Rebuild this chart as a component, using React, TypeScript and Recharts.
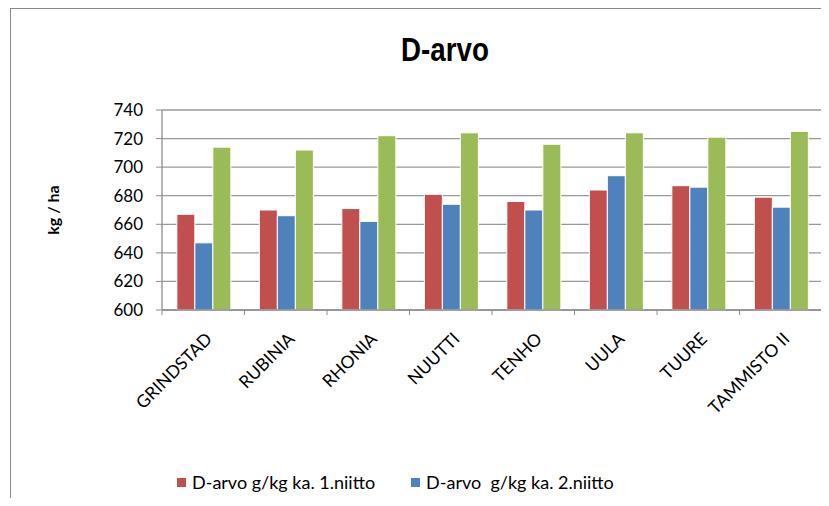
import React from "react";
import {
  BarChart,
  Bar,
  XAxis,
  YAxis,
  CartesianGrid,
  Legend,
} from "recharts";

// lajikkeet ja D-arvot (g/kg ka.)
const varieties = [
  "GRINDSTAD",
  "RUBINIA",
  "RHONIA",
  "NUUTTI",
  "TENHO",
  "UULA",
  "TUURE",
  "TAMMISTO II",
];
const cut1 = [667, 670, 671, 681, 676, 684, 687, 679];
const cut2 = [647, 666, 662, 674, 670, 694, 686, 672];
const cut3 = [714, 712, 722, 724, 716, 724, 721, 725];
const yTicks = [600, 620, 640, 660, 680, 700, 720, 740];
// vain kaksi ensimmäistä sarjaa näkyy selitteessä
const legendKeys = ["cut1", "cut2"];

const data = varieties.map((name, i) => ({
  name,
  cut1: cut1[i],
  cut2: cut2[i],
  cut3: cut3[i],
}));

const W = 829;
const H = 506;
const PLOT_LEFT = 162;
const PLOT_RIGHT = 822;
const HALF_BAND = (PLOT_RIGHT - PLOT_LEFT) / varieties.length / 2;
const FONT = "Lato, 'Open Sans', sans-serif";
const AXIS = "#8e8e8e";

function CategoryTick(props: any) {
  const { x, y, payload, index } = props;
  const tx = x + 10;
  const ty = y + 30;
  return (
    <g>
      <line x1={x - HALF_BAND} y1={y} x2={x - HALF_BAND} y2={y + 5} stroke={AXIS} />
      {index === varieties.length - 1 && (
        <line x1={x + HALF_BAND} y1={y} x2={x + HALF_BAND} y2={y + 5} stroke={AXIS} />
      )}
      <text
        x={tx}
        y={ty}
        textAnchor="end"
        transform={`rotate(-45 ${tx} ${ty})`}
        fill="#000"
        fontSize={17.5}
        fontFamily={FONT}
      >
        {payload.value}
      </text>
    </g>
  );
}

function LegendBox(props: any) {
  const items = (props.payload || [])
    .filter((it: any) => legendKeys.includes(it.dataKey))
    .sort((a: any, b: any) => legendKeys.indexOf(a.dataKey) - legendKeys.indexOf(b.dataKey));
  return (
    <div style={{ display: "flex", fontFamily: FONT, fontSize: 18, color: "#000" }}>
      {items.map((it: any, i: number) => (
        <div
          key={i}
          style={{ display: "flex", alignItems: "center", marginRight: 36, whiteSpace: "pre" }}
        >
          <span
            style={{ width: 9, height: 9, background: it.color, display: "inline-block", marginRight: 6 }}
          />
          {it.value}
        </div>
      ))}
    </div>
  );
}

export default function App() {
  return (
    <div style={{ position: "relative", width: W, height: H, margin: -8, background: "#fff" }}>
      <div
        style={{
          position: "absolute",
          left: 10,
          top: 8,
          width: W - 10,
          height: H - 8,
          borderTop: "1.5px solid #8a8a8a",
          borderLeft: "1.5px solid #8a8a8a",
        }}
      />
      <div
        style={{
          position: "absolute",
          left: 345,
          width: 200,
          top: 31,
          textAlign: "center",
          fontFamily: "'Liberation Sans', Arial, sans-serif",
          fontWeight: "bold",
          fontSize: 33,
          color: "#000",
          transform: "scaleX(0.84)",
        }}
      >
        D-arvo
      </div>
      <div style={{ position: "absolute", left: 0, top: 0 }}>
        <BarChart
          width={W}
          height={H}
          data={data}
          margin={{ top: 110, right: W - PLOT_RIGHT, bottom: 0, left: 0 }}
          barCategoryGap="18%"
          barGap={0}
        >
          <CartesianGrid vertical={false} stroke="#999" strokeWidth={1.3} />
          <XAxis
            dataKey="name"
            height={196}
            interval={0}
            tickSize={0}
            tickMargin={0}
            tickLine={false}
            axisLine={{ stroke: AXIS, strokeWidth: 1.3 }}
            tick={<CategoryTick />}
          />
          <YAxis
            width={PLOT_LEFT}
            domain={[600, 740]}
            ticks={yTicks}
            interval={0}
            tickSize={6}
            tickMargin={13}
            axisLine={{ stroke: AXIS, strokeWidth: 1.3 }}
            tickLine={{ stroke: AXIS }}
            tick={{ fill: "#000", fontSize: 17, fontFamily: FONT }}
            label={{
              content: ({ viewBox }: any) => {
                const lx = viewBox.x + 59;
                const ly = viewBox.y + viewBox.height / 2;
                return (
                  <text
                    x={lx}
                    y={ly}
                    textAnchor="middle"
                    transform={`rotate(-90 ${lx} ${ly})`}
                    fontWeight="bold"
                    fontSize={16}
                    fontFamily={FONT}
                    fill="#000"
                  >
                    kg / ha
                  </text>
                );
              },
            }}
          />
          <Legend
            layout="horizontal"
            verticalAlign="middle"
            align="center"
            wrapperStyle={{ position: "absolute", top: 471, left: 177, width: "auto" }}
            content={<LegendBox />}
          />
          <Bar
            dataKey="cut1"
            name="D-arvo g/kg ka. 1.niitto"
            fill="#C0504D"
            stroke="#fff"
            strokeWidth={1}
            isAnimationActive={false}
          />
          <Bar
            dataKey="cut2"
            name="D-arvo  g/kg ka. 2.niitto"
            fill="#4F81BD"
            stroke="#fff"
            strokeWidth={1}
            isAnimationActive={false}
          />
          <Bar
            dataKey="cut3"
            name="D-arvo g/kg ka. 3.niitto"
            fill="#9BBB59"
            stroke="#fff"
            strokeWidth={1}
            legendType="none"
            isAnimationActive={false}
          />
        </BarChart>
      </div>
    </div>
  );
}
